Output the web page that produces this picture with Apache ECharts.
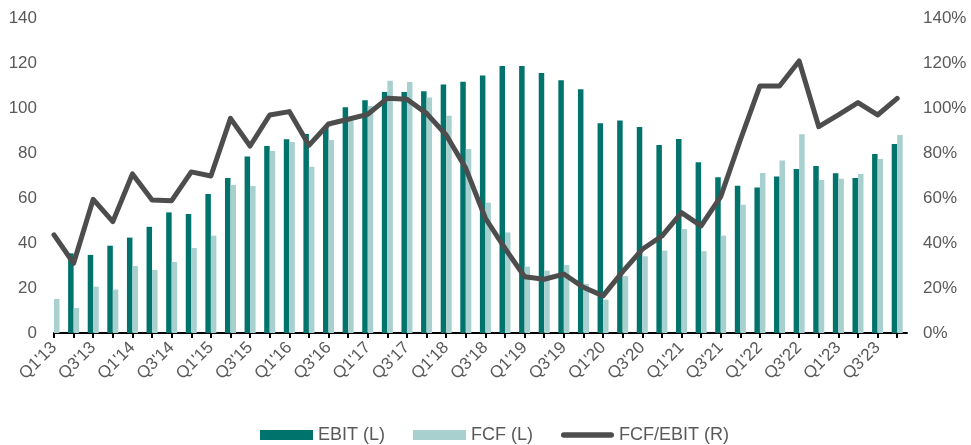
<!DOCTYPE html>
<html>
<head>
<meta charset="utf-8">
<script src="https://cdn.jsdelivr.net/npm/echarts@6/dist/echarts.min.js"></script>
<style>
  html, body { margin: 0; padding: 0; background: #fff; }
  #chart { width: 971px; height: 445px; }
</style>
</head>
<body>
<div id="chart"></div>
<script>
var quarters = [
  "Q1'13","Q2'13","Q3'13","Q4'13","Q1'14","Q2'14","Q3'14","Q4'14",
  "Q1'15","Q2'15","Q3'15","Q4'15","Q1'16","Q2'16","Q3'16","Q4'16",
  "Q1'17","Q2'17","Q3'17","Q4'17","Q1'18","Q2'18","Q3'18","Q4'18",
  "Q1'19","Q2'19","Q3'19","Q4'19","Q1'20","Q2'20","Q3'20","Q4'20",
  "Q1'21","Q2'21","Q3'21","Q4'21","Q1'22","Q2'22","Q3'22","Q4'22",
  "Q1'23","Q2'23","Q3'23","Q4'23"
];

// EBIT (L)
var ebit = [
  35.1, 35.4, 34.7, 38.8, 42.4, 47.2, 53.6, 52.9,
  61.8, 68.9, 78.4, 83.1, 86.1, 88.4, 91.4, 100.3,
  103.4, 107.1, 107.1, 107.4, 110.5, 111.7, 114.4, 118.7,
  118.7, 115.6, 112.3, 108.3, 93.2, 94.5, 91.6, 83.6,
  86.2, 75.9, 69.2, 65.5, 64.7, 69.6, 72.9, 74.2,
  71.0, 68.9, 79.6, 84.0
];

// FCF (L)
var fcf = [
  15.1, 11.1, 20.6, 19.3, 29.8, 28.0, 31.6, 37.8,
  43.3, 65.8, 65.3, 80.9, 84.9, 73.9, 85.8, 94.5,
  100.9, 112.1, 111.6, 104.7, 96.6, 81.8, 57.9, 44.7,
  29.5, 27.7, 30.2, 21.8, 14.8, 25.3, 34.1, 36.6,
  46.2, 36.4, 43.3, 57.0, 71.1, 76.7, 88.3, 68.0,
  68.6, 70.7, 77.3, 88.0
];

// FCF/EBIT (R), in %
var ratio = [
  43.6, 31.0, 59.4, 49.5, 70.7, 59.1, 58.8, 71.6,
  69.8, 95.4, 83.1, 96.9, 98.4, 83.4, 92.9, 95.0,
  97.2, 104.3, 103.9, 97.6, 88.0, 73.2, 51.0, 37.6,
  25.0, 23.9, 26.2, 20.3, 16.5, 27.3, 37.2, 43.1,
  53.5, 47.6, 60.6, 85.8, 109.8, 109.8, 120.9, 91.7,
  96.9, 102.4, 96.9, 104.3
];

function pairs(arr) {
  return arr.map(function (v, i) { return [i, v]; });
}
var tickIdx = quarters.map(function (q, i) { return i; });
var labelIdx = tickIdx.filter(function (i) { return i % 2 === 0; });

// the plot area starts at the first quarter's centre, so the left half of
// that quarter (the first EBIT bar) falls outside it and is not shown
var ebitData = pairs(ebit).map(function (d, i) {
  return i === 0 ? { value: d, itemStyle: { opacity: 0 } } : d;
});

var font = 'Liberation Sans, Arial, sans-serif';
var grey = '#595959';
var lineIcon = 'path://M2.75,0 L51.25,0 A2.75,2.75 0 0 1 51.25,5.5 L2.75,5.5 A2.75,2.75 0 0 1 2.75,0 Z';

var chart = echarts.init(document.getElementById('chart'));
chart.setOption({
  animation: false,
  textStyle: { fontFamily: font },
  grid: { left: 54, right: 64, top: 18, bottom: 112 },
  legend: {
    left: 255,
    top: 421,
    itemWidth: 53,
    itemHeight: 10,
    itemGap: 28,
    textStyle: { fontSize: 18, color: grey, fontFamily: font },
    data: [
      { name: 'EBIT (L)', icon: 'rect' },
      { name: 'FCF (L)', icon: 'rect' },
      { name: 'FCF/EBIT (R)', icon: lineIcon }
    ]
  },
  xAxis: {
    type: 'value',
    min: 0,
    max: 43.5,
    splitLine: { show: false },
    axisLine: { show: true, onZero: false, lineStyle: { color: '#000', width: 2 } },
    axisTick: {
      show: true,
      customValues: tickIdx,
      length: 5,
      lineStyle: { color: '#000', width: 2 }
    },
    axisLabel: {
      customValues: labelIdx,
      rotate: 45,
      margin: 12,
      fontSize: 17,
      color: grey,
      formatter: function (v) { return quarters[Math.round(v)]; }
    }
  },
  yAxis: [
    {
      type: 'value',
      min: 0,
      max: 140,
      interval: 20,
      splitLine: { show: false },
      axisLine: { show: false },
      axisTick: { show: false },
      axisLabel: { fontSize: 17, color: grey, margin: 17 }
    },
    {
      type: 'value',
      min: 0,
      max: 140,
      interval: 20,
      splitLine: { show: false },
      axisLine: { show: false },
      axisTick: { show: false },
      axisLabel: { fontSize: 17, color: grey, margin: 16, formatter: '{value}%' }
    }
  ],
  series: [
    {
      name: 'EBIT (L)',
      type: 'bar',
      barWidth: 5.5,
      barGap: '0%',
      itemStyle: { color: '#00736C' },
      data: ebitData
    },
    {
      name: 'FCF (L)',
      type: 'bar',
      barWidth: 5.5,
      barGap: '0%',
      itemStyle: { color: '#A8D0CF' },
      data: pairs(fcf)
    },
    {
      name: 'FCF/EBIT (R)',
      type: 'line',
      yAxisIndex: 1,
      symbol: 'none',
      showSymbol: false,
      z: 5,
      lineStyle: { color: '#4D4D4D', width: 5, cap: 'round', join: 'round' },
      itemStyle: { color: '#4D4D4D' },
      data: pairs(ratio)
    }
  ]
});
</script>
</body>
</html>
